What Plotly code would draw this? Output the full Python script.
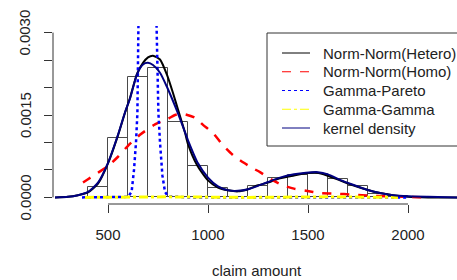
import plotly.graph_objects as go

# ---------------- data ----------------
bin_left = [400, 500, 600, 700, 800, 900, 1000, 1100, 1200, 1300, 1400, 1500, 1600, 1700, 1800, 1900]
bin_density = [0.00019, 0.00108, 0.00220, 0.00235, 0.00137, 0.00057, 0.00018, 0.00011,
               0.00020, 0.00035, 0.00040, 0.00043, 0.00033, 0.00020, 0.00006, 0.00002]
bin_width = 100

x_hetero = [235, 300, 350, 400, 450, 500, 550, 585, 610, 645, 675, 700, 725, 760, 795, 825,
            850, 885, 900, 945, 1000, 1050, 1100, 1150, 1200, 1250, 1300, 1360, 1430, 1490,
            1545, 1595, 1660, 1725, 1795, 1860, 1925, 2000, 2100, 2250]
y_hetero = [0.0, 0.00001, 0.00004, 0.00009, 0.00025, 0.00062, 0.00113, 0.00154, 0.00181,
            0.00225, 0.00245, 0.00255, 0.00258, 0.00251, 0.00223, 0.00190, 0.00160, 0.00118,
            0.00097, 0.00059, 0.00031, 0.00018, 0.00013, 0.00011, 0.00015, 0.00022, 0.00027,
            0.00035, 0.00040, 0.00044, 0.00045, 0.00040, 0.00031, 0.00022, 0.00014, 0.00008,
            0.00004, 0.00001, 0.0, 0.0]

x_homo = [375, 400, 450, 500, 550, 600, 660, 735, 800, 835, 875, 935, 975, 1025, 1075, 1125,
          1175, 1225, 1260, 1325, 1375, 1430, 1490, 1560, 1630, 1730, 1810, 1900, 2000, 2100]
y_homo = [0.00027, 0.00033, 0.00045, 0.00057, 0.00074, 0.00094, 0.00114, 0.00133, 0.00143,
          0.00150, 0.00152, 0.00145, 0.00132, 0.00117, 0.00095, 0.00077, 0.00064, 0.00053,
          0.00046, 0.00031, 0.00022, 0.00016, 0.00012, 0.00008, 0.00007, 0.00005, 0.00003,
          0.00002, 0.00001, 0.0]

x_gp = [370, 500, 600, 618, 630, 640, 647, 652, 700, 743, 752, 760, 772, 785, 800, 900,
        1200, 1500, 1800, 2000]
y_gp = [0.0, 0.0, 0.00001, 0.0001, 0.0005, 0.0010, 0.00154, 0.0031, 0.0060, 0.0031, 0.00154,
        0.0010, 0.0004, 0.0001, 0.00002, 0.0, 0.0, 0.0, 0.0, 0.0]

x_gg = [385, 800, 1200, 1600, 1950]
y_gg = [0.0, 0.00001, 0.0, 0.00001, 0.0]

x_kde = [235, 300, 350, 400, 450, 500, 550, 585, 610, 645, 675, 700, 725, 760, 795, 850, 900,
         950, 1000, 1050, 1100, 1150, 1200, 1250, 1300, 1360, 1430, 1490, 1550, 1600, 1660,
         1725, 1795, 1860, 1925, 2000, 2100, 2250]
y_kde = [0.0, 0.00001, 0.00004, 0.0001, 0.00027, 0.00063, 0.00114, 0.00155, 0.00180, 0.00224,
         0.00242, 0.00245, 0.00241, 0.00227, 0.00201, 0.00153, 0.00104, 0.00062, 0.00036,
         0.00020, 0.00013, 0.00012, 0.00015, 0.00021, 0.00028, 0.00036, 0.00042, 0.00045,
         0.00046, 0.00042, 0.00032, 0.00023, 0.00014, 0.00008, 0.00004, 0.00002, 0.00001, 0.0]

x_ticks = [500, 1000, 1500, 2000]
x_tick_labels = ["500", "1000", "1500", "2000"]
y_ticks = [0.0, 0.0005, 0.0010, 0.0015, 0.0020, 0.0025, 0.0030]
y_tick_labels = ["0.0000", "", "", "0.0015", "", "", "0.0030"]

x_title = "claim amount"
names = ["Norm-Norm(Hetero)", "Norm-Norm(Homo)", "Gamma-Pareto", "Gamma-Gamma", "kernel density"]
colors = ["black", "#ff0000", "#0000ff", "#ffff00", "#000080"]
dashes = ["solid", "dash", "dot", "dashdot", "solid"]

# ---------------- figure ----------------
FONT = "Arial, 'Liberation Sans', sans-serif"
W, H = 457, 280
ML, MR, MT, MB = 53, 0, 26, 76
PW, PH = W - ML - MR, H - MT - MB


def px_x(p):
    return (p - ML) / PW


def px_y(p):
    return (H - MB - p) / PH


fig = go.Figure()

fig.add_trace(go.Bar(
    x=bin_left, y=bin_density, width=bin_width, offset=0,
    marker=dict(color="rgba(255,255,255,0)", line=dict(color="#4a4a4a", width=1)),
    showlegend=False, hoverinfo="skip"))

series = [(x_hetero, y_hetero, 2, "spline"), (x_homo, y_homo, 2.5, "spline"),
          (x_gp, y_gp, 2.5, "linear"), (x_gg, y_gg, 3, "linear"), (x_kde, y_kde, 2, "spline")]
for i, (xs, ys, w, shp) in enumerate(series):
    line = dict(color=colors[i], width=w, dash=dashes[i], shape=shp)
    if shp == "spline":
        line["smoothing"] = 0.6
    fig.add_trace(go.Scatter(x=xs, y=ys, mode="lines", name=names[i], line=line,
                             showlegend=False))

# R-style axis lines (first to last tick) and manual legend
shapes = [
    dict(type="line", xref="x", yref="paper", x0=x_ticks[0], x1=x_ticks[-1], y0=0, y1=0,
         line=dict(color="#333", width=1)),
    dict(type="line", xref="paper", yref="y", x0=0, x1=0, y0=y_ticks[0], y1=y_ticks[-1],
         line=dict(color="#333", width=1)),
    dict(type="rect", xref="paper", yref="paper", x0=px_x(267), x1=px_x(470),
         y0=px_y(146), y1=px_y(33), line=dict(color="#333", width=1), fillcolor="white",
         layer="above"),
]
annotations = []
for i, nm in enumerate(names):
    yy = px_y(53 + 18.75 * i)
    shapes.append(dict(type="line", xref="paper", yref="paper", x0=px_x(282), x1=px_x(310),
                       y0=yy, y1=yy, line=dict(color=colors[i], width=1, dash=dashes[i]),
                       layer="above"))
    annotations.append(dict(xref="paper", yref="paper", x=px_x(321), y=yy, text=nm,
                            showarrow=False, xanchor="left", yanchor="middle",
                            font=dict(family=FONT, size=15, color="#222")))

# rotated y tick labels (R style, las=0)
for v, lab in zip(y_ticks, y_tick_labels):
    if lab:
        annotations.append(dict(xref="paper", yref="y", x=px_x(25), y=v, text=lab,
                                textangle=-90, showarrow=False, xanchor="center",
                                yanchor="middle",
                                font=dict(family=FONT, size=15, color="#222")))

annotations.append(dict(xref="paper", yref="paper", x=px_x(257), y=px_y(270), text=x_title,
                        showarrow=False, xanchor="center", yanchor="middle",
                        font=dict(family=FONT, size=15, color="#222")))

fig.update_layout(
    width=W, height=H,
    margin=dict(l=ML, r=MR, t=MT, b=MB),
    plot_bgcolor="white", paper_bgcolor="white",
    font=dict(family=FONT, size=15, color="#222"),
    bargap=0, showlegend=False,
    shapes=shapes, annotations=annotations,
)
fig.update_xaxes(range=[225, 2245], showgrid=False, zeroline=False, showline=False,
                 automargin=False,
                 tickmode="array", tickvals=x_ticks, ticktext=x_tick_labels,
                 ticks="outside", ticklen=8, tickcolor="#333", ticklabelstandoff=9)
fig.update_yaxes(range=[-0.00012, 0.00312], showgrid=False, zeroline=False, showline=False,
                 automargin=False, showticklabels=False,
                 tickmode="array", tickvals=y_ticks,
                 ticks="outside", ticklen=8, tickcolor="#333")

fig.write_html("out.html", config={"displayModeBar": False},
               post_script="document.body.style.margin='0px';document.body.style.overflow='hidden';")
